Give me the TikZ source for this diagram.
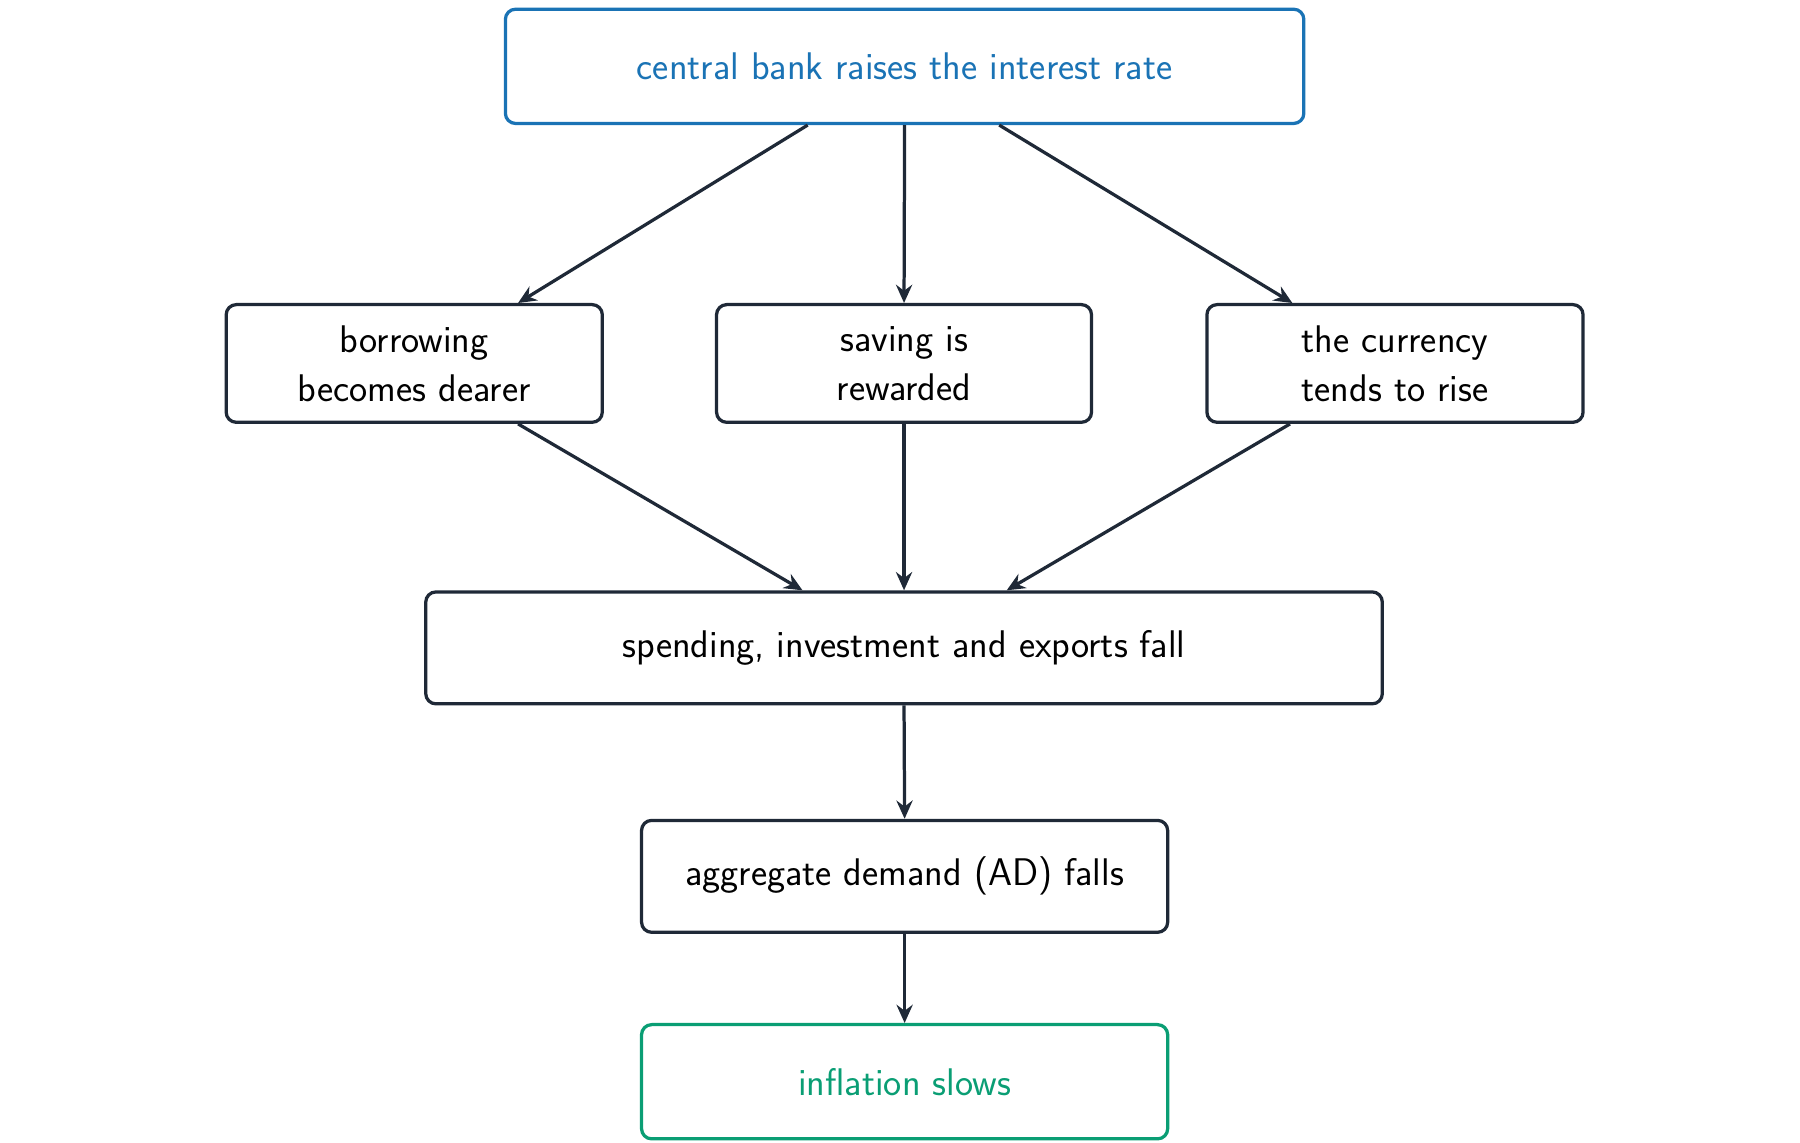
\documentclass[tikz,border=0pt]{standalone}
\usetikzlibrary{arrows.meta}
\definecolor{dk}{HTML}{1F2937}
\definecolor{bl}{HTML}{1A73B5}
\definecolor{gr}{HTML}{0A9E74}
\begin{document}
\begin{tikzpicture}[x=0.02cm,y=-0.02cm,
  box/.style={draw=dk,line width=1.6pt,rounded corners=5pt,inner sep=0pt,align=center,text=black,font=\sffamily\fontsize{19}{24}\selectfont},
  arr/.style={draw=dk,line width=1.6pt,-{Stealth[length=9pt,width=8pt,inset=3pt]}}]
\useasboundingbox (0,0) rectangle (1560,990.6);
\node[box,draw=bl,text=bl,minimum width=692*0.02cm,minimum height=99*0.02cm] (top) at (784,57.5) {central bank raises the interest rate};
\node[box,minimum width=326*0.02cm,minimum height=102*0.02cm] (bor) at (359,315) {borrowing\\becomes dearer};
\node[box,minimum width=325*0.02cm,minimum height=102*0.02cm] (sav) at (783.5,315) {saving is\\rewarded};
\node[box,minimum width=326*0.02cm,minimum height=102*0.02cm] (cur) at (1209,315) {the currency\\tends to rise};
\node[box,minimum width=829*0.02cm,minimum height=97*0.02cm] (spe) at (783.5,561.5) {spending, investment and exports fall};
\node[box,minimum width=456*0.02cm,minimum height=97*0.02cm] (ad) at (784,759.5) {aggregate demand (AD) falls};
\node[box,draw=gr,text=gr,minimum width=456*0.02cm,minimum height=99*0.02cm] (inf) at (784,937.5) {inflation slows};
\draw[arr] ([xshift=-84*0.02cm]top.south) -- ([xshift=90*0.02cm]bor.north);
\draw[arr] (top.south) -- (sav.north);
\draw[arr] ([xshift=82*0.02cm]top.south) -- ([xshift=-89*0.02cm]cur.north);
\draw[arr] ([xshift=90*0.02cm]bor.south) -- ([xshift=-88*0.02cm]spe.north);
\draw[arr] (sav.south) -- (spe.north);
\draw[arr] ([xshift=-91*0.02cm]cur.south) -- ([xshift=89*0.02cm]spe.north);
\draw[arr] (spe.south) -- (ad.north);
\draw[arr] (ad.south) -- (inf.north);
\end{tikzpicture}
\end{document}
